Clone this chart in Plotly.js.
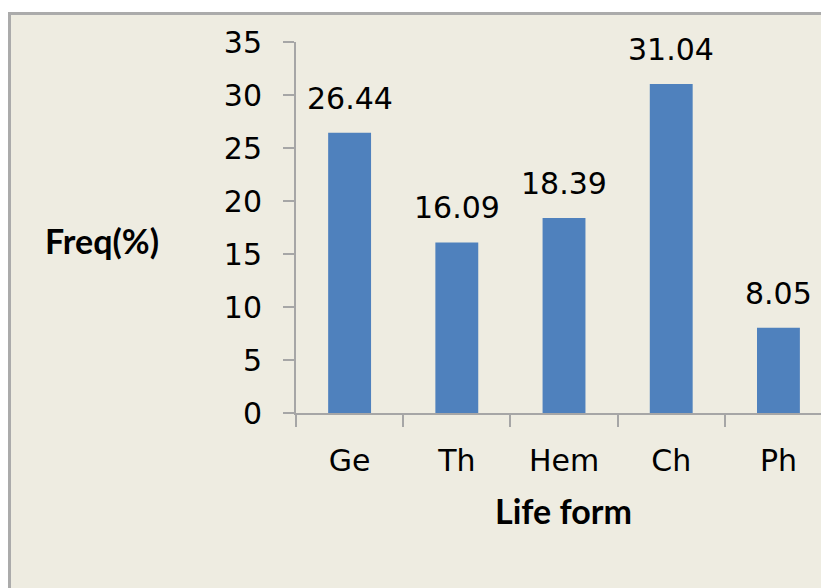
<!DOCTYPE html>
<html>
<head>
<meta charset="utf-8">
<script src="https://cdn.plot.ly/plotly-3.0.1.min.js"></script>
<style>
  html, body { margin: 0; padding: 0; background: #ffffff; width: 821px; height: 588px; overflow: hidden; }
  #frame { position: absolute; left: 8px; top: 12px; width: 813px; height: 576px;
           border-top: 3px solid #ababab; border-left: 3px solid #ababab; background: #EEECE1; }
  #chart { position: absolute; left: 0px; top: 0px; width: 810px; height: 573px; }
</style>
</head>
<body>
<div id="frame"><div id="chart"></div></div>
<script>
const categories = ["Ge", "Th", "Hem", "Ch", "Ph"];
const freqValues = [26.44, 16.09, 18.39, 31.04, 8.05];
const valueLabels = ["26.44", "16.09", "18.39", "31.04", "8.05"];
const yTickValues = [0, 5, 10, 15, 20, 25, 30, 35];

const labelFont = { family: "DejaVu Sans, Verdana, sans-serif", size: 30, color: "#000000" };
const titleFont = { family: "Lato, Calibri, sans-serif", size: 34, color: "#000000", weight: 700 };

const trace = {
  type: "bar",
  x: categories,
  y: freqValues,
  width: 0.4,
  marker: { color: "#4F81BD", line: { width: 0 } },
  hoverinfo: "x+y"
};

const annotations = categories.map((c, i) => ({
  x: c, y: freqValues[i], xref: "x", yref: "y",
  text: valueLabels[i], showarrow: false,
  yanchor: "bottom", yshift: 15, font: labelFont
}));
annotations.push({
  xref: "paper", yref: "paper", x: -0.3695, y: 0.466,
  xanchor: "center", yanchor: "middle", showarrow: false,
  text: "<b>Freq(%)</b>", font: titleFont
});
annotations.push({
  xref: "paper", yref: "paper", x: 0.5086, y: -0.262,
  xanchor: "center", yanchor: "middle", showarrow: false,
  text: "<b>Life form</b>", font: titleFont
});

const layout = {
  width: 810, height: 573,
  margin: { l: 285, r: 0, t: 27, b: 175, pad: 0 },
  paper_bgcolor: "#EEECE1",
  plot_bgcolor: "#EEECE1",
  showlegend: false,
  xaxis: {
    type: "category",
    range: [-0.5, 4.397],
    showgrid: false, zeroline: false,
    showline: true, linecolor: "#a6a6a6", linewidth: 2,
    ticks: "outside", tickson: "boundaries", ticklen: 12, tickwidth: 2, tickcolor: "#a6a6a6",
    ticklabelstandoff: 20,
    tickfont: labelFont
  },
  yaxis: {
    range: [0, 35],
    tickvals: yTickValues,
    ticktext: yTickValues.map(String),
    showgrid: false, zeroline: false,
    showline: true, linecolor: "#a6a6a6", linewidth: 2,
    ticks: "outside", ticklen: 11, tickwidth: 2, tickcolor: "#a6a6a6",
    ticklabelstandoff: 15,
    tickfont: labelFont
  },
  annotations: annotations
};

Plotly.newPlot("chart", [trace], layout, { displayModeBar: false, staticPlot: true });
</script>
</body>
</html>
